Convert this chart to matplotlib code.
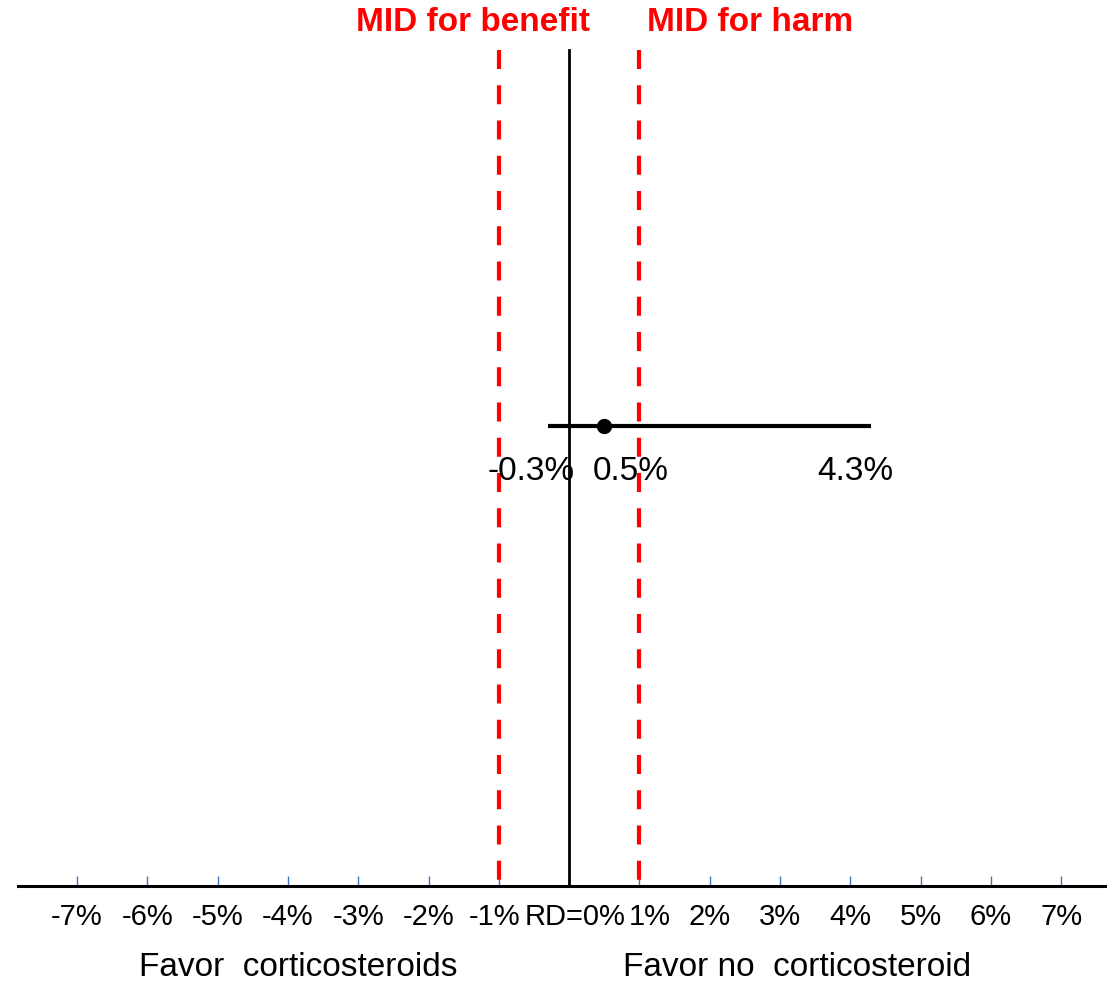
"""Risk difference forest plot with MID thresholds."""

import matplotlib
matplotlib.use('Agg')
import matplotlib.pyplot as plt
from matplotlib.transforms import ScaledTranslation


TICK_VALUES = [-7, -6, -5, -4, -3, -2, -1, 0, 1, 2, 3, 4, 5, 6, 7]
TICK_LABELS = ['-7%', '-6%', '-5%', '-4%', '-3%', '-2%', '-1%', 'RD=0%',
               '1%', '2%', '3%', '4%', '5%', '6%', '7%']

POINT_ESTIMATE = 0.5
CI_LOW = -0.3
CI_HIGH = 4.3

MID_BENEFIT = -1.0
MID_HARM = 1.0

SIDE_LABELS = ['Favor  corticosteroids', 'Favor no  corticosteroid']
SIDE_POSITIONS = [-3.85, 3.24]

plt.rcParams['font.family'] = ['Liberation Sans', 'DejaVu Sans']

fig = plt.figure(figsize=(11.07, 9.9), dpi=100)
ax = fig.add_axes([18 / 1107, 1 - 886 / 990, 1089 / 1107, 886 / 990])
ax.set_xlim(-7.84, 7.65)
ax.set_ylim(0, 1)

for side in ('top', 'left', 'right'):
    ax.spines[side].set_visible(False)
ax.spines['bottom'].set_linewidth(2.2)
ax.set_yticks([])

ax.set_xticks(TICK_VALUES)
ax.set_xticklabels(TICK_LABELS, fontsize=21)
ax.tick_params(axis='x', direction='in', length=7, width=1.0,
               color='#4472C4', pad=12)

# spread the crowded labels around zero a little (offsets in pixels)
label_nudges = {'-1%': -4, 'RD=0%': 6, '1%': 10}
for label in ax.get_xticklabels():
    dx = label_nudges.get(label.get_text(), 0)
    if dx:
        label.set_transform(label.get_transform()
                            + ScaledTranslation(dx / 100, 0,
                                                fig.dpi_scale_trans))

# line of no effect
ax.plot([0, 0], [0, 0.944], color='black', linewidth=2)

# MID thresholds, dashes start at the top
for mid in (MID_BENEFIT, MID_HARM):
    ax.plot([mid, mid], [0.944, 0.007], color='#FF0000', linewidth=3,
            linestyle=(0, (4.56, 3.9)))

ax.text(-1.37, 0.975, 'MID for benefit', color='#FF0000', fontsize=24,
        fontweight='bold', ha='center', va='center', clip_on=False)
ax.text(1.11, 0.975, 'MID for harm', color='#FF0000', fontsize=24,
        fontweight='bold', ha='left', va='center', clip_on=False)

# confidence interval and point estimate
ci_y = 0.519
ax.plot([CI_LOW, CI_HIGH], [ci_y, ci_y], color='black', linewidth=3,
        solid_capstyle='butt')
ax.plot([POINT_ESTIMATE], [ci_y], marker='o', color='black', markersize=10)

value_offsets = [(-12, -33), (19, -33), (-12, -33)]
for value, offset in zip((CI_LOW, POINT_ESTIMATE, CI_HIGH), value_offsets):
    ax.annotate(f'{value:.1f}%', xy=(value, ci_y), xytext=offset,
                textcoords='offset points', ha='center', va='center',
                fontsize=24)

for label, pos in zip(SIDE_LABELS, SIDE_POSITIONS):
    ax.text(pos, -0.0925, label, fontsize=24, ha='center', va='center',
            clip_on=False)

fig.savefig('out.png', dpi=100)
